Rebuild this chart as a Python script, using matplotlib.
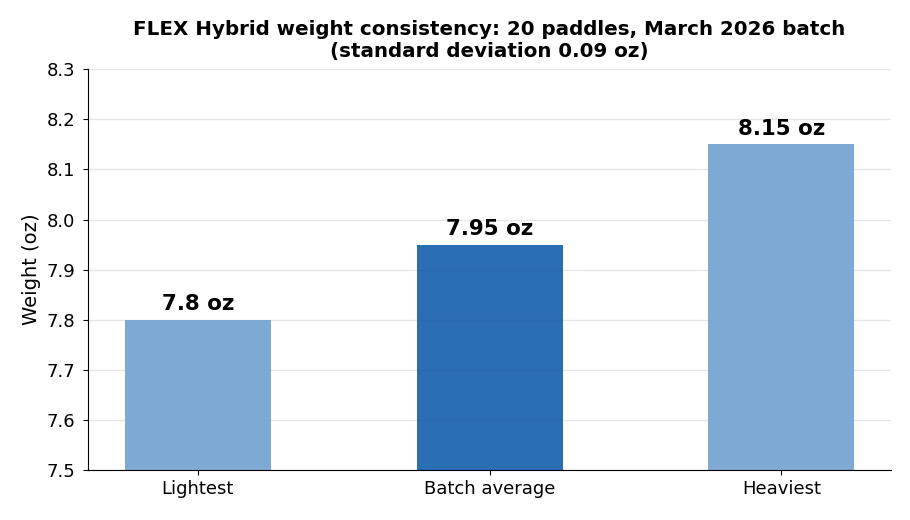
import matplotlib.pyplot as plt

# Paddle weights
categories = ["Lightest", "Batch average", "Heaviest"]
weights = [7.8, 7.95, 8.15]
value_labels = ["7.8 oz", "7.95 oz", "8.15 oz"]
bar_colors = ["#70a0d1", "#135eab", "#70a0d1"]

fig, ax = plt.subplots(figsize=(9.1, 5.2), dpi=100)
fig.subplots_adjust(left=0.097, right=0.979, top=0.867, bottom=0.096)

x = range(len(categories))
bars = ax.bar(x, weights, width=0.5, color=bar_colors, alpha=0.9, zorder=2)

for b, lab in zip(bars, value_labels):
    ax.annotate(lab, (b.get_x() + b.get_width() / 2, b.get_height()),
                xytext=(0, 4), textcoords="offset points",
                ha="center", va="bottom", fontsize=15.4, fontweight="bold")

ax.set_xticks(list(x))
ax.set_xticklabels(categories, fontsize=13)
ax.set_ylim(7.5, 8.3)
ax.set_yticks([7.5 + 0.1 * i for i in range(9)])
ax.tick_params(axis="y", labelsize=13, pad=6)
ax.set_ylabel("Weight (oz)", fontsize=14)
ax.set_title("FLEX Hybrid weight consistency: 20 paddles, March 2026 batch\n(standard deviation 0.09 oz)",
             fontsize=14.3, fontweight="bold", pad=8.5)

ax.grid(axis="y", color="#e6e6e6", linewidth=1, zorder=0)
ax.set_axisbelow(True)
ax.spines["top"].set_visible(False)
ax.spines["right"].set_visible(False)

plt.savefig("out.png", dpi=100)
